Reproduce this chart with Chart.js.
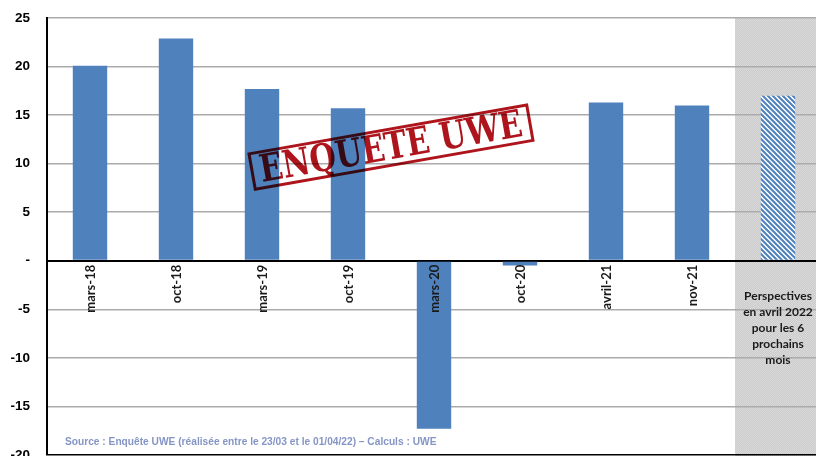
<!DOCTYPE html>
<html>
<head>
<meta charset="utf-8">
<script src="https://cdn.jsdelivr.net/npm/chart.js@4"></script>
<style>
  html, body { margin: 0; padding: 0; overflow: hidden; background: #fff; }
  #wrap { position: absolute; left: 0; top: -7px; width: 824px; height: 487px; }
</style>
</head>
<body>
<div id="wrap"><canvas id="uweChart"></canvas></div>
<script>
const categories = ["mars-18", "oct-18", "mars-19", "oct-19", "mars-20", "oct-20", "avril-21", "nov-21",
  ["Perspectives", "en avril 2022", "pour les 6", "prochains", "mois"]];
const soldes = [20.1, 22.9, 17.7, 15.7, -17.3, -0.5, 16.3, 16.0, 17.0];
const yTicks = [25, 20, 15, 10, 5, 0, -5, -10, -15, -20];
const sourceText = "Source : Enquête UWE (réalisée entre le 23/03 et le 01/04/22) – Calculs : UWE";
const stampText = "ENQUETE UWE";

const barBlue = 'rgb(79,129,189)';

// striped pattern for the forecast bar
function makeHatch() {
  const c = document.createElement('canvas');
  c.width = 5; c.height = 5;
  const g = c.getContext('2d');
  g.fillStyle = '#fff';
  g.fillRect(0, 0, 5, 5);
  g.strokeStyle = barBlue;
  g.lineWidth = 2;
  g.beginPath();
  g.moveTo(-1, -1); g.lineTo(6, 6);
  g.moveTo(-1, 4); g.lineTo(1, 6);
  g.moveTo(4, -1); g.lineTo(6, 1);
  g.stroke();
  return g.createPattern(c, 'repeat');
}

// dotted grey texture for the forecast zone
function makeGrey() {
  const c = document.createElement('canvas');
  c.width = 2; c.height = 2;
  const g = c.getContext('2d');
  g.fillStyle = '#dadada';
  g.fillRect(0, 0, 2, 2);
  g.fillStyle = '#cbcbcb';
  g.fillRect(0, 0, 1, 1);
  g.fillRect(1, 1, 1, 1);
  return g.createPattern(c, 'repeat');
}

const ctx = document.getElementById('uweChart').getContext('2d');
const hatch = makeHatch();
const greyFill = makeGrey();

const zonePlugin = {
  id: 'zone',
  beforeDraw(chart) {
    const x = chart.scales.x, a = chart.chartArea, c = chart.ctx;
    const last = categories.length - 1;
    const half = (x.getPixelForValue(1) - x.getPixelForValue(0)) / 2;
    const left = x.getPixelForValue(last) - half;
    c.save();
    c.fillStyle = greyFill;
    c.fillRect(left, a.top, a.right - left, a.bottom - a.top + 2);
    c.restore();
  }
};

const labelsPlugin = {
  id: 'catLabels',
  afterDatasetsDraw(chart) {
    const x = chart.scales.x, y = chart.scales.y, c = chart.ctx;
    const zero = y.getPixelForValue(0);
    c.save();
    c.fillStyle = '#1a1a1a';
    categories.forEach((lab, i) => {
      const px = x.getPixelForValue(i);
      if (Array.isArray(lab)) {
        c.font = 'bold 12px Lato, "Noto Sans", sans-serif';
        c.textAlign = 'center';
        c.textBaseline = 'middle';
        lab.forEach((line, k) => c.fillText(line, px, zero + 35 + k * 16));
      } else {
        c.font = 'bold 13px Lato, "Noto Sans", sans-serif';
        c.save();
        c.translate(px + 1, zero + 4);
        c.rotate(-Math.PI / 2);
        c.textAlign = 'right';
        c.textBaseline = 'middle';
        c.fillText(lab, 0, 0);
        c.restore();
      }
    });

    // stamp
    const a = chart.chartArea;
    c.save();
    c.translate(391, a.top + 129);
    c.rotate(-10 * Math.PI / 180);
    c.globalCompositeOperation = 'multiply';
    c.strokeStyle = '#ae141c';
    c.fillStyle = '#ae141c';
    c.lineWidth = 3;
    c.strokeRect(-141, -18, 282, 36);
    c.font = 'bold 38px "DejaVu Serif", serif';
    const w = c.measureText(stampText).width;
    c.scale(266 / w, 1);
    c.textAlign = 'center';
    c.textBaseline = 'middle';
    c.fillText(stampText, 0, 2);
    c.restore();

    c.restore();
  },
  afterDraw(chart) {
    const c = chart.ctx, a = chart.chartArea;
    c.save();
    c.font = 'bold 10.2px "Liberation Sans", Arial, sans-serif';
    c.fillStyle = '#8595c6';
    c.textAlign = 'left';
    c.textBaseline = 'middle';
    c.fillText(sourceText, 65, a.bottom - 13);
    c.restore();
  }
};

new Chart(ctx, {
  type: 'bar',
  data: {
    labels: categories,
    datasets: [{
      label: 'Solde',
      data: soldes,
      backgroundColor: soldes.map((_, i) => i === soldes.length - 1 ? hatch : barBlue),
      borderWidth: 0,
      barPercentage: 0.4,
      categoryPercentage: 1
    }]
  },
  options: {
    responsive: true,
    maintainAspectRatio: false,
    animation: false,
    layout: { padding: { top: 0, bottom: 0, left: 0, right: 3 } },
    scales: {
      x: {
        display: false
      },
      y: {
        min: -20,
        max: 25,
        afterFit(scale) { scale.width = 47; },
        afterBuildTicks(scale) { scale.ticks = yTicks.map(v => ({ value: v })); },
        border: { color: '#000', width: 2 },
        grid: {
          drawTicks: false,
          color: c => (c.tick && (c.tick.value === 0 || c.tick.value === -20)) ? '#000' : '#ababab',
          lineWidth: c => (c.tick && c.tick.value === 0) ? 2 : 1.5
        },
        ticks: {
          padding: 17,
          color: '#000',
          font: { family: '"Liberation Sans", Arial, sans-serif', size: 13.5, weight: 'bold' },
          callback: v => v === 0 ? '-' : v
        }
      }
    },
    plugins: {
      legend: { display: false },
      tooltip: { enabled: false }
    }
  },
  plugins: [zonePlugin, labelsPlugin]
});
</script>
</body>
</html>
